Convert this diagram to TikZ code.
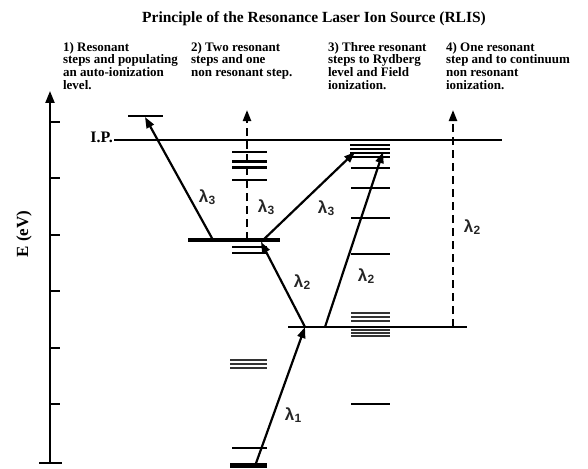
\documentclass[tikz,border=0pt]{standalone}
\usepackage{fontspec}
\setmainfont{Liberation Serif}
\newfontfamily\lamfont{Liberation Sans}
\usetikzlibrary{arrows.meta}
\newcommand{\lam}[1]{{\lamfont\bfseries λ\kern0.3pt\raisebox{-2.5pt}{\fontsize{12}{12}\selectfont #1}}}

\begin{document}
\begin{tikzpicture}[x=1pt, y=-1pt, >={Triangle[length=11pt,width=8pt]},
  line width=2.2pt,
  lvl/.style={line width=2.2pt},
  thk/.style={line width=3.6pt},
  fine/.style={line width=1.5pt, black!80},
  las/.style={->, line width=2.2pt},
  dsh/.style={las, dash pattern=on 8pt off 5pt},
  lbl/.style={font=\fontsize{17}{17}\lamfont, inner sep=1pt, black!85},
  col/.style={anchor=north west, align=left, inner sep=0pt,
              font=\fontsize{13}{12.7}\selectfont\bfseries}]
\useasboundingbox (0,0) rectangle (588,468);

\node[font=\fontsize{15.5}{18}\selectfont\bfseries] (title) at (314,19)
  {Principle of the Resonance Laser Ion Source (RLIS)};

\node[col] (c1) at (62,41)  {1) Resonant\\steps and populating\\an auto-ionization\\level.};
\node[col] (c2) at (190,41) {2) Two resonant\\steps and one\\non resonant step.};
\node[col] (c3) at (327,41) {3) Three resonant\\steps to Rydberg\\level and Field\\ionization.};
\node[col] (c4) at (445,41) {4) One resonant\\step and to continuum\\non resonant\\ionization.};

% energy axis
\draw[->, >={Triangle[length=12pt,width=9pt]}] (50,463) -- (50,91);
\draw (39,463) -- (62,463);
\foreach \y in {122,178,235,291,348,404} \draw (50,\y) -- (60,\y);
\node[rotate=90, font=\fontsize{17}{17}\selectfont\bfseries] (eaxis) at (24,234) {E (eV)};

% levels
\node[anchor=east, inner sep=0pt, font=\fontsize{16}{16}\selectfont\bfseries] (ip) at (114,137) {I.P.};
\draw[lvl] (ip.east |- 0,140) -- (502,140);
\draw[lvl] (128,116) -- (163,116);
\draw[thk] (188,240) -- (280,240);
\draw[lvl] (288,327) -- (467,327);
\foreach \y in {152,180,247,253,448} \draw[lvl] (232,\y) -- (267,\y);
\foreach \y in {161,167} \draw[thk, line width=3pt] (232,\y) -- (267,\y);
\foreach \y in {360,364,368} \draw[fine] (230,\y) -- (267,\y);
\draw[thk, line width=5pt] (230,465) -- (267,465);
\foreach \y in {145,149,153,157} \draw[lvl] (350,\y) -- (390,\y);
\foreach \y in {168,188,218,254,404} \draw[lvl] (351,\y) -- (390,\y);
\foreach \y in {313,317,321,330,333,336} \draw[fine] (351,\y) -- (390,\y);

% end points of the laser steps
\coordinate (gnd)  at (255,466);
\coordinate (e1)   at (305,327);
\coordinate (e1b)  at (325,327);
\coordinate (e1c)  at (453,327);
\coordinate (e2)   at (261,242);
\coordinate (e2a)  at (213,240);
\coordinate (e2b)  at (247,240);
\coordinate (ai)   at (145,117);
\coordinate (ryd)  at (355,152);
\coordinate (ryd2) at (383,152);
\coordinate (top2) at (247,110);
\coordinate (top4) at (453,110);

\draw[las] (gnd) -- (e1);
\node[lbl] (l1) at (293,415) {\lam{1}};
\draw[las] (e1)  -- (e2);
\node[lbl] (l2a) at (302,282) {\lam{2}};
\draw[las] (e2a) -- (ai);
\node[lbl] (l3a) at (207,197) {\lam{3}};
\draw[dsh] (e2b) -- (top2);
\node[lbl] (l3b) at (266,207) {\lam{3}};
\draw[las] (e2)  -- (ryd);
\node[lbl] (l3c) at (326,208) {\lam{3}};
\draw[las] (e1b) -- (ryd2);
\node[lbl] (l2b) at (366,276) {\lam{2}};
\draw[dsh] (e1c) -- (top4);
\node[lbl] (l2c) at (472,227) {\lam{2}};
\end{tikzpicture}
\end{document}
